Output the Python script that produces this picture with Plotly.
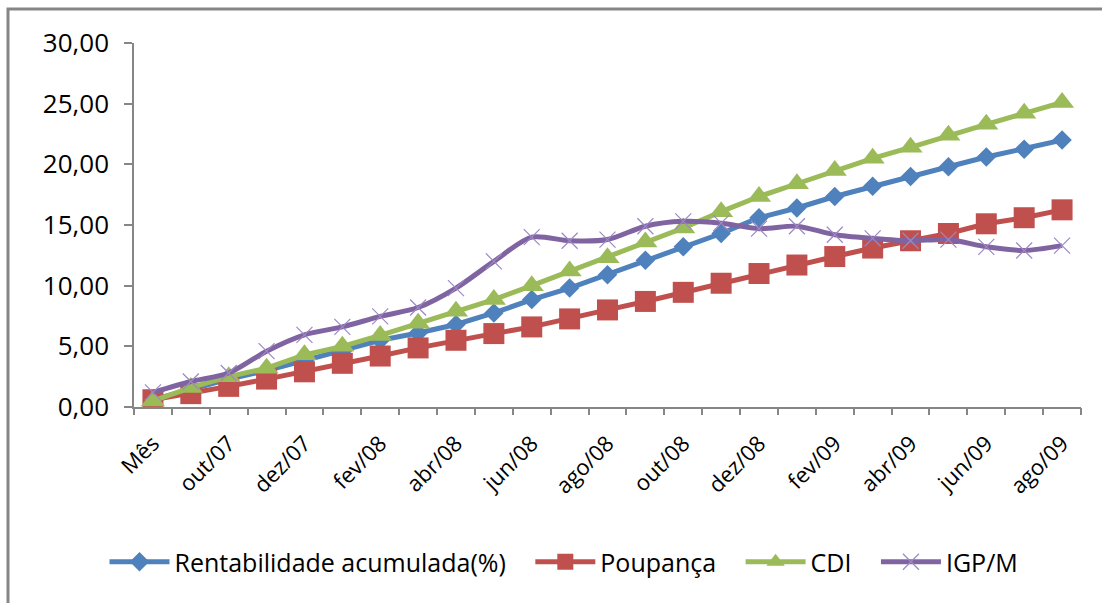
import plotly.graph_objects as go

# Categorias (meses) e séries acumuladas (%)
meses = ["Mês", "set/07", "out/07", "nov/07", "dez/07", "jan/08", "fev/08", "mar/08",
         "abr/08", "mai/08", "jun/08", "jul/08", "ago/08", "set/08", "out/08", "nov/08",
         "dez/08", "jan/09", "fev/09", "mar/09", "abr/09", "mai/09", "jun/09", "jul/09",
         "ago/09"]

rentabilidade = [0.6, 1.5, 2.3, 3.0, 3.8, 4.6, 5.5, 6.1, 6.8, 7.75, 8.85, 9.8, 10.9,
                 12.1, 13.2, 14.3, 15.6, 16.4, 17.35, 18.2, 19.0, 19.8, 20.6, 21.25, 22.0]
poupanca = [0.6, 1.1, 1.7, 2.3, 2.9, 3.6, 4.2, 4.87, 5.5, 6.05, 6.6, 7.26, 8.0, 8.7,
            9.45, 10.2, 11.0, 11.7, 12.4, 13.1, 13.7, 14.3, 15.1, 15.6, 16.25]
cdi = [0.5, 1.6, 2.5, 3.2, 4.3, 5.0, 5.9, 6.9, 7.9, 8.85, 10.0, 11.2, 12.3, 13.6,
       14.75, 16.1, 17.35, 18.4, 19.5, 20.5, 21.4, 22.4, 23.3, 24.2, 25.1]
igpm = [1.2, 2.1, 2.8, 4.6, 5.95, 6.6, 7.47, 8.2, 9.8, 12.0, 14.0, 13.7, 13.8, 14.9,
        15.3, 15.15, 14.7, 14.9, 14.2, 13.9, 13.7, 13.8, 13.2, 12.9, 13.3]

y_ticks = [0, 5, 10, 15, 20, 25, 30]

FONT = "Open Sans"
W, H = 1102, 603
ML, MR, MT, MB = 134, 21, 43, 196
PW, PH = W - ML - MR, H - MT - MB

xi = list(range(len(meses)))
PAD = "\u00a0" * 3  # espaço extra entre os itens da legenda

fig = go.Figure()

fig.add_trace(go.Scatter(
    x=xi, y=rentabilidade, name="Rentabilidade acumulada(%)" + PAD, mode="lines+markers",
    line=dict(color="#4F81BD", width=5),
    marker=dict(symbol="diamond", size=15, color="#4F81BD")))
fig.add_trace(go.Scatter(
    x=xi, y=poupanca, name="Poupança" + PAD, mode="lines+markers",
    line=dict(color="#C0504D", width=5),
    marker=dict(symbol="square", size=21, color="#C0504D")))
fig.add_trace(go.Scatter(
    x=xi, y=cdi, name="CDI" + PAD, mode="lines+markers",
    line=dict(color="#9BBB59", width=5),
    marker=dict(symbol="triangle-up", size=21, color="#9BBB59")))
fig.add_trace(go.Scatter(
    x=xi, y=igpm, name="IGP/M", mode="lines+markers",
    line=dict(color="#8064A2", width=5, shape="spline", smoothing=0.8),
    marker=dict(symbol="x-thin-open", size=16, color="#9C88C4",
                line=dict(color="#9C88C4", width=1.2))))

# Eixo auxiliar só com as marcas de divisão entre meses
fig.add_trace(go.Scatter(x=[-0.5, len(meses) - 0.5], y=[None, None], xaxis="x2",
                         showlegend=False, hoverinfo="skip"))

fig.update_layout(
    width=W, height=H,
    margin=dict(l=ML, r=MR, t=MT, b=MB),
    paper_bgcolor="white", plot_bgcolor="white",
    separators=",.",
    font=dict(family=FONT, color="black", size=20),
    xaxis=dict(
        range=[-0.5, len(meses) - 0.5],
        tickvals=xi[::2], ticktext=meses[::2],
        tickangle=-45, ticks="", showgrid=False, zeroline=False,
        showline=True, linecolor="#868686", linewidth=2,
        ticklabelstandoff=13,
        tickfont=dict(family=FONT, size=22, color="black"),
    ),
    xaxis2=dict(
        overlaying="x", matches="x", side="bottom",
        range=[-0.5, len(meses) - 0.5],
        tickvals=[i - 0.5 for i in range(len(meses) + 1)],
        showticklabels=False, ticks="outside", ticklen=7, tickwidth=1.5,
        tickcolor="#868686", showgrid=False, zeroline=False, showline=False,
    ),
    yaxis=dict(
        range=[0, 30], tickvals=y_ticks, tickformat=".2f",
        ticks="outside", ticklen=8, tickwidth=1.5, tickcolor="#868686",
        showgrid=False, zeroline=False,
        showline=True, linecolor="#868686", linewidth=1.5,
        ticklabelstandoff=10,
        tickfont=dict(family=FONT, size=26, color="black"),
    ),
    legend=dict(
        orientation="h", xanchor="center", yanchor="middle",
        x=(564 - ML) / PW, y=(MT + PH - 562) / PH,
        font=dict(family=FONT, size=25, color="black"),
        itemwidth=60, traceorder="normal",
        bgcolor="rgba(0,0,0,0)",
    ),
    shapes=[dict(
        type="rect", xref="paper", yref="paper", layer="below",
        x0=(8 - ML) / PW, x1=(1110 - ML) / PW,
        y0=(MT + PH - 612) / PH, y1=(MT + PH - 9) / PH,
        line=dict(color="#868686", width=3),
    )],
)

fig.write_html("out.html")
